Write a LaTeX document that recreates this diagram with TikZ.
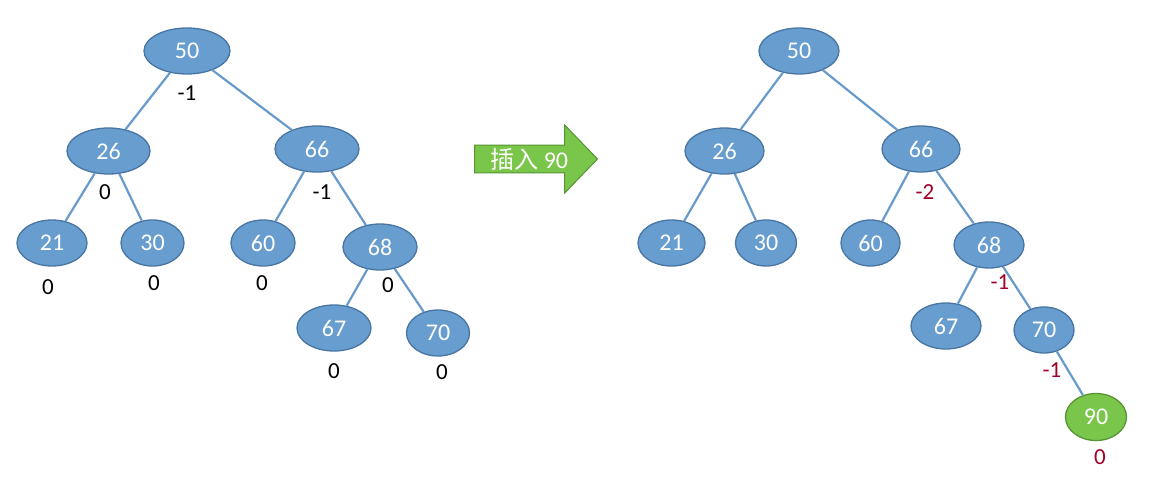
\documentclass[tikz,border=0pt]{standalone}
\usepackage{fontspec}
\setmainfont{Carlito}
\newfontfamily\cjk{Noto Sans CJK SC}
\usepackage{xcolor}
\usepackage{tikz}
\usetikzlibrary{shapes.geometric, shapes.arrows}

\definecolor{nodeblue}{RGB}{104,157,207}
\definecolor{rimblue}{RGB}{72,117,162}
\definecolor{linkblue}{RGB}{104,154,204}
\definecolor{newgreen}{RGB}{122,198,74}
\definecolor{rimgreen}{RGB}{86,148,52}
\definecolor{balred}{RGB}{158,0,40}

\begin{document}
\begin{tikzpicture}[
      x=1pt, y=-1pt,
      key/.style={ellipse, draw=rimblue, line width=1.3pt, fill=nodeblue, text=white, inner sep=0pt, minimum height=46pt, font=\fontsize{24}{28}\selectfont},
      newkey/.style={key, draw=rimgreen, fill=newgreen},
      bal/.style={inner sep=0pt, font=\fontsize{23}{27}\selectfont},
      chg/.style={bal, text=balred},
      link/.style={draw=linkblue, line width=2.2pt},
      insarrow/.style={single arrow, draw=rimgreen, line width=1pt, fill=newgreen, text=white, inner sep=1pt, minimum height=123pt, minimum width=68pt, single arrow head extend=18pt, single arrow tip angle=92, font=\fontsize{24}{28}\selectfont}
    ]
    \useasboundingbox (0,0) rectangle (1175,479);

    % before insertion
    \node[key, minimum width=86pt] (a50) at (187,51) {50};
    \node[key, minimum width=83pt] (a26) at (108.5,151) {26};
    \node[key, minimum width=84pt] (a66) at (317,149) {66};
    \node[key, minimum width=70pt] (a21) at (52,243) {21};
    \node[key, minimum width=63pt] (a30) at (152.5,243) {30};
    \node[key, minimum width=64pt] (a60) at (263,243) {60};
    \node[key, minimum width=74pt] (a68) at (380,247) {68};
    \node[key, minimum width=74pt] (a67) at (334,328) {67};
    \node[key, minimum width=63pt] (a70) at (438,333) {70};

    \draw[link] (a50) -- (a26);
    \draw[link] (a50) -- (a66);
    \draw[link] (a26) -- (a21);
    \draw[link] (a26) -- (a30);
    \draw[link] (a66) -- (a60);
    \draw[link] (a66) -- (a68);
    \draw[link] (a68) -- (a67);
    \draw[link] (a68) -- (a70);

    \node[bal] (b50) at (187,93) {-1};
    \node[bal] (b26) at (105,192) {0};
    \node[bal] (b66) at (322,192) {-1};
    \node[bal] (b21) at (48,287) {0};
    \node[bal] (b30) at (154,283) {0};
    \node[bal] (b60) at (262,283) {0};
    \node[bal] (b68) at (388,285) {0};
    \node[bal] (b67) at (334,371) {0};
    \node[bal] (b70) at (442,372) {0};

    \node[insarrow, anchor=tail] (ins) at (474,159) {{\cjk 插入} 90};

    % after insertion
    \node[key, minimum width=80pt] (c50) at (799,51) {50};
    \node[key, minimum width=79pt] (c26) at (724.5,151) {26};
    \node[key, minimum width=78pt] (c66) at (921,149) {66};
    \node[key, minimum width=67pt] (c21) at (671.5,243) {21};
    \node[key, minimum width=61pt] (c30) at (766,243) {30};
    \node[key, minimum width=59pt] (c60) at (870.5,243) {60};
    \node[key, minimum width=70pt] (c68) at (989,245) {68};
    \node[key, minimum width=70pt] (c67) at (946,326) {67};
    \node[key, minimum width=60pt] (c70) at (1044,330) {70};
    \node[newkey, minimum width=61pt, minimum height=47pt] (c90) at (1096,417) {90};

    \draw[link] (c50) -- (c26);
    \draw[link] (c50) -- (c66);
    \draw[link] (c26) -- (c21);
    \draw[link] (c26) -- (c30);
    \draw[link] (c66) -- (c60);
    \draw[link] (c66) -- (c68);
    \draw[link] (c68) -- (c67);
    \draw[link] (c68) -- (c70);
    \draw[link] (c70) -- (c90);

    \node[chg] (d66) at (925,192) {-2};
    \node[chg] (d68) at (1000,282) {-1};
    \node[chg] (d70) at (1052,370) {-1};
    \node[chg] (d90) at (1100,457) {0};
  \end{tikzpicture}
\end{document}
